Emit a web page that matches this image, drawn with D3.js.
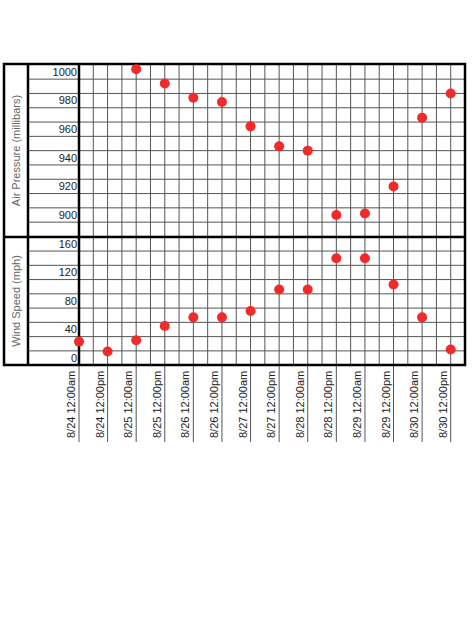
<!DOCTYPE html>
<html><head><meta charset="utf-8">
<script src="https://cdn.jsdelivr.net/npm/d3@7"></script>
<style>body{margin:0;background:#fff}</style>
</head><body>
<svg id="chart" width="474" height="632"></svg>
<script>
var dates = ["8/24 12:00am","8/24 12:00pm","8/25 12:00am","8/25 12:00pm","8/26 12:00am","8/26 12:00pm",
  "8/27 12:00am","8/27 12:00pm","8/28 12:00am","8/28 12:00pm","8/29 12:00am","8/29 12:00pm",
  "8/30 12:00am","8/30 12:00pm"];
var pressure = [null, null, 1002, 992, 982, 979, 962, 948, 945, 900, 901, 920, 968, 985];
var wind = [23, 9, 25, 45, 57, 57, 66, 96, 96, 140, 140, 103, 57, 12];
var pressureTicks = [900, 920, 940, 960, 980, 1000];
var windTicks = [0, 40, 80, 120, 160];

var svg = d3.select("#chart");
var boxL = 79, boxR = 465, boxT = 64, boxM = 237, boxB = 365;
var step = (boxR - boxL) / 27;

var x = d3.scaleLinear().domain([0, 13]).range([boxL, boxL + 26 * step]);
var yP = d3.scaleLinear().domain([1000 - (boxT - 72) / 1.43, 1000 - (boxM - 72) / 1.43]).range([boxT, boxM]);
var yW = d3.scaleLinear().domain([(358 - boxM) / 0.713, (358 - boxB) / 0.713]).range([boxM, boxB]);

// vertical grid
var g = svg.append("g").attr("stroke", "#555").attr("stroke-width", 1);
d3.range(1, 27).forEach(function(i) {
  g.append("line").attr("x1", boxL + i * step).attr("x2", boxL + i * step)
    .attr("y1", boxT).attr("y2", boxB);
});
// horizontal grid (half way between labelled values)
d3.range(885, 1000, 10).forEach(function(v) {
  g.append("line").attr("x1", 28).attr("x2", boxR).attr("y1", yP(v)).attr("y2", yP(v));
});
d3.range(10, 160, 20).forEach(function(v) {
  g.append("line").attr("x1", 28).attr("x2", boxR).attr("y1", yW(v)).attr("y2", yW(v));
});

// below-box ticks
dates.forEach(function(d, i) {
  svg.append("line").attr("x1", x(i)).attr("x2", x(i)).attr("y1", boxB).attr("y2", 442)
    .attr("stroke", "#555");
  svg.append("text").attr("transform", "translate(" + (x(i) - 4) + ",438) rotate(-90)")
    .attr("font-family", "Liberation Sans, Arial").attr("font-size", 11).attr("fill", "#222")
    .text(d);
});

// frames
var f = svg.append("g").attr("fill", "none").attr("stroke", "#000").attr("stroke-width", 2.5);
f.append("rect").attr("x", 4).attr("y", boxT).attr("width", boxR - 4).attr("height", boxB - boxT);
f.append("line").attr("x1", 4).attr("x2", boxR).attr("y1", boxM).attr("y2", boxM);
f.append("line").attr("x1", 28).attr("x2", 28).attr("y1", boxT).attr("y2", boxB);
f.append("line").attr("x1", boxL).attr("x2", boxL).attr("y1", boxT).attr("y2", boxB);

// tick labels
function tickLabel(v, y) {
  svg.append("text").attr("x", 77).attr("y", y).attr("dy", "0.35em").attr("text-anchor", "end")
    .attr("font-family", "Liberation Sans, Arial").attr("font-size", 11).attr("fill", "#222").text(v);
}
pressureTicks.forEach(function(v) { tickLabel(v, yP(v)); });
windTicks.forEach(function(v) { tickLabel(v, yW(v)); });

// axis titles
svg.append("text").attr("transform", "translate(20," + (boxT + boxM) / 2 + ") rotate(-90)")
  .attr("text-anchor", "middle").attr("font-family", "Liberation Sans, Arial").attr("font-size", 11)
  .attr("fill", "#666").text("Air Pressure (millibars)");
svg.append("text").attr("transform", "translate(20," + (boxM + boxB) / 2 + ") rotate(-90)")
  .attr("text-anchor", "middle").attr("font-family", "Liberation Sans, Arial").attr("font-size", 11)
  .attr("fill", "#666").text("Wind Speed (mph)");

// points
svg.selectAll(".p").data(pressure.map(function(v, i) { return [i, v]; }).filter(function(d) { return d[1] != null; }))
  .enter().append("circle").attr("cx", function(d) { return x(d[0]); }).attr("cy", function(d) { return yP(d[1]); })
  .attr("r", 5).attr("fill", "#f22a2a");
svg.selectAll(".w").data(wind).enter().append("circle")
  .attr("cx", function(d, i) { return x(i); }).attr("cy", function(d) { return yW(d); })
  .attr("r", 5).attr("fill", "#f22a2a");
</script>
</body></html>
